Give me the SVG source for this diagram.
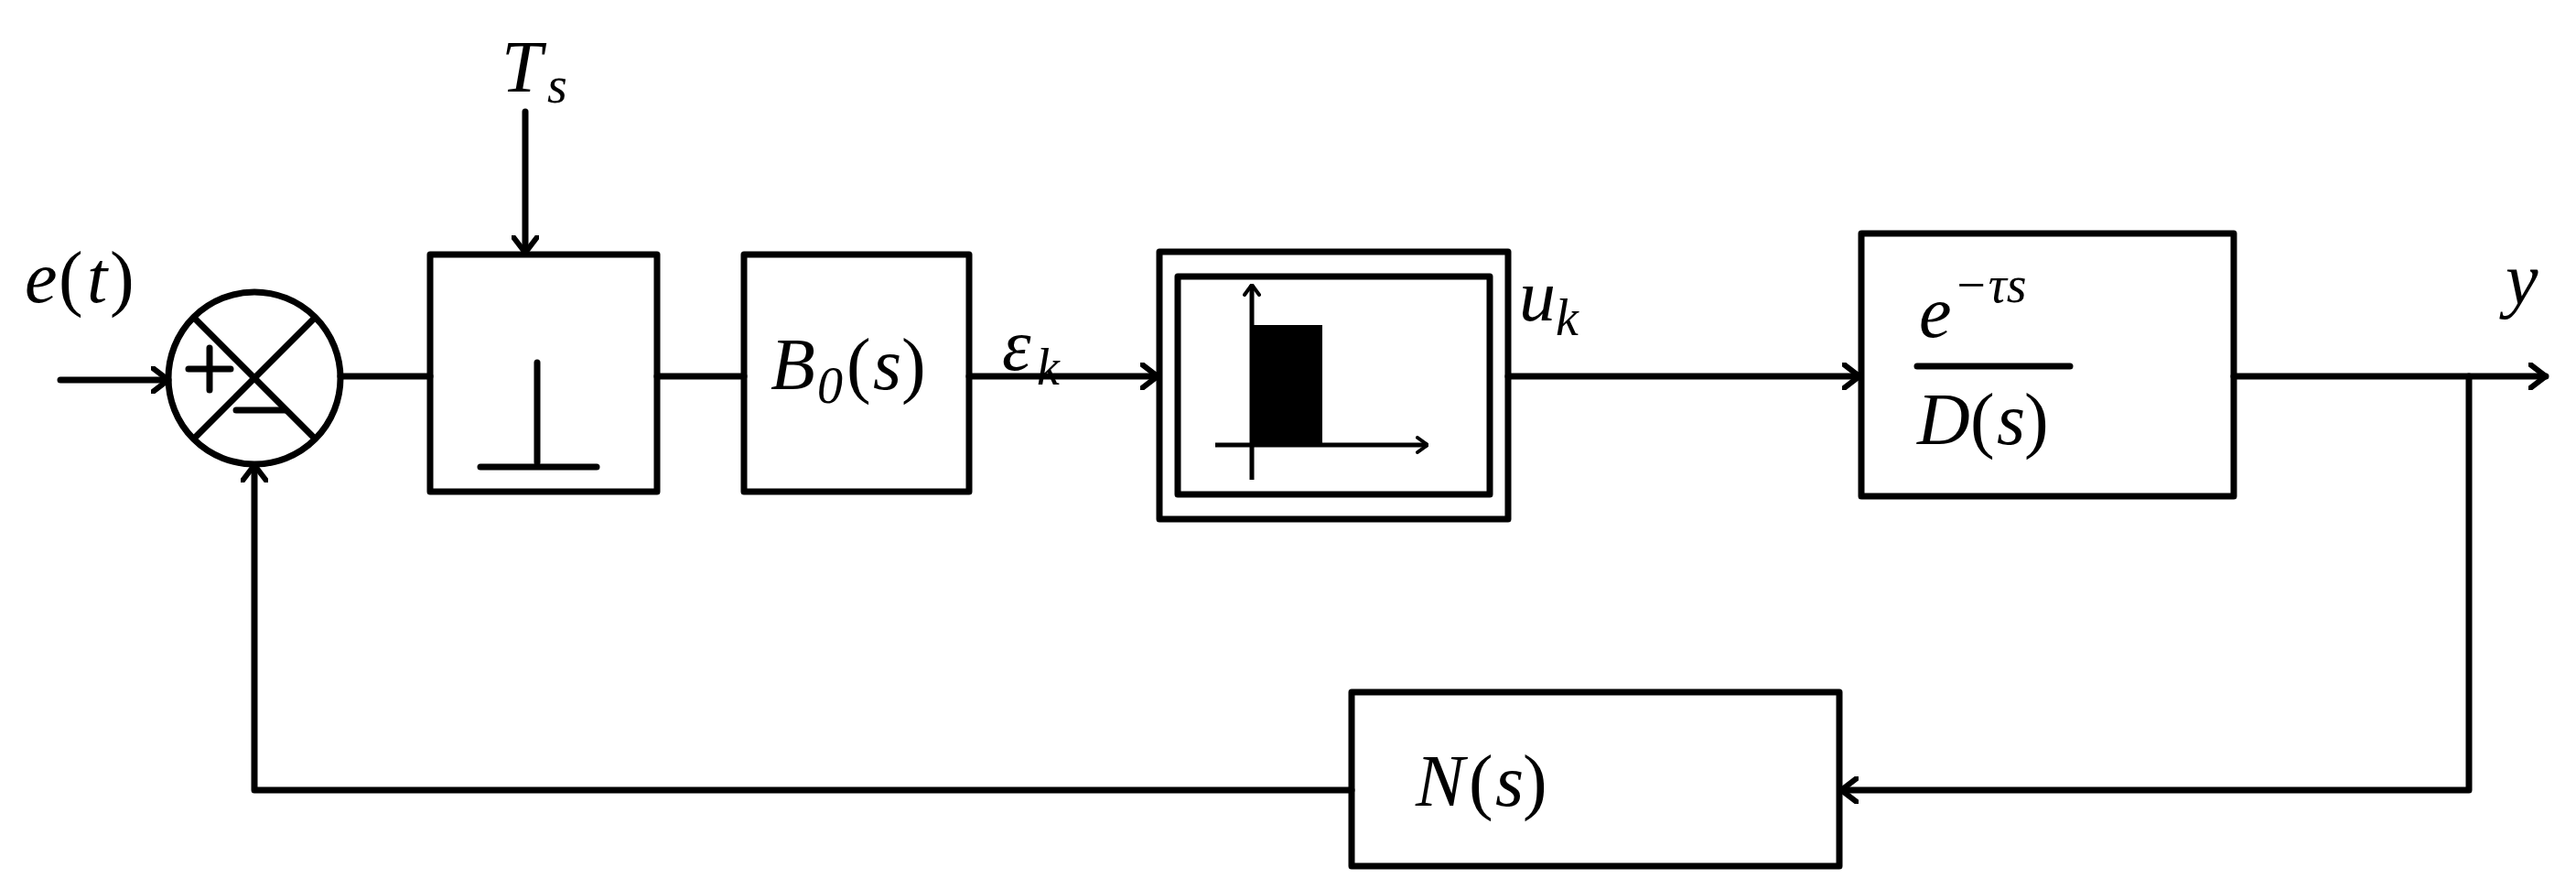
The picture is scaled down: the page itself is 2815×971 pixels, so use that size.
<svg xmlns="http://www.w3.org/2000/svg" width="2815" height="971" viewBox="0 0 2815 971">
<style>
.s{fill:none;stroke:#000;stroke-width:7;stroke-linecap:round;stroke-linejoin:round}
.t{font-family:"Liberation Serif",serif;font-style:italic;font-size:80px;fill:#000}
.r{font-family:"Liberation Serif",serif;font-size:80px;fill:#000}
.sub{font-family:"Liberation Serif",serif;font-style:italic;font-size:56px;fill:#000}
</style>
<defs>
<marker id="a" viewBox="0 0 20 30" refX="19" refY="15" markerWidth="20" markerHeight="30" markerUnits="userSpaceOnUse" orient="auto">
<path d="M2 2 L19 15 L2 28" fill="none" stroke="#000" stroke-width="6" stroke-linecap="round" stroke-linejoin="round"/>
</marker>
<marker id="b" viewBox="0 0 14 20" refX="13" refY="10" markerWidth="14" markerHeight="20" markerUnits="userSpaceOnUse" orient="auto">
<path d="M2 2 L13 10 L2 18" fill="none" stroke="#000" stroke-width="4" stroke-linecap="round"/>
</marker>
</defs>
<g id="connectors" class="s">
<line x1="66" y1="415" x2="184" y2="415" marker-end="url(#a)"/>
<line x1="574" y1="122" x2="574" y2="276" marker-end="url(#a)"/>
<line x1="372" y1="411" x2="470" y2="411"/>
<line x1="718" y1="411" x2="813" y2="411"/>
<line x1="1059" y1="411" x2="1265" y2="411" marker-end="url(#a)"/>
<line x1="1648" y1="411" x2="2032" y2="411" marker-end="url(#a)"/>
<line x1="2441" y1="411" x2="2782" y2="411" marker-end="url(#a)"/>
<polyline points="2698,411 2698,863 2012,863" marker-end="url(#a)"/>
<polyline points="1477,863 278,863 278,508" marker-end="url(#a)"/>
</g>
<g id="sum" class="s">
<ellipse cx="278" cy="413" rx="94" ry="94"/>
<line x1="212" y1="347" x2="344" y2="479"/>
<line x1="344" y1="347" x2="212" y2="479"/>
<line x1="206" y1="403" x2="252" y2="403" />
<line x1="229" y1="380" x2="229" y2="426"/>
<line x1="258" y1="448" x2="312" y2="448"/>
</g>
<text class="t" x="27" y="330">e</text><text class="r" x="64" y="330">(</text><text class="t" x="95" y="330">t</text><text class="r" x="120" y="330">)</text>
<text class="t" x="548" y="100">T</text><text class="sub" x="598" y="112">s</text>
<g id="sampler">
<rect class="s" x="470" y="278" width="248" height="259"/>
<line class="s" x1="587" y1="396" x2="587" y2="505"/>
<line class="s" x1="525" y1="510" x2="652" y2="510"/>
</g>
<g id="hold">
<rect class="s" x="813" y="278" width="246" height="259"/>
<text class="t" x="842" y="425">B</text><text class="sub" x="893" y="440" font-style="normal">0</text><text class="r" x="925" y="425">(</text><text class="t" x="954" y="425">s</text><text class="r" x="985" y="425">)</text>
</g>
<text class="t" x="1095" y="404">ε</text><text class="sub" x="1133" y="420">k</text>
<g id="pwm">
<rect class="s" x="1267" y="275" width="381" height="292"/>
<rect class="s" x="1287" y="302" width="341" height="238"/>
<rect x="1368" y="355" width="77" height="131" fill="#000"/>
<line x1="1368" y1="524" x2="1368" y2="311" stroke="#000" stroke-width="5" marker-end="url(#b)"/>
<line x1="1328" y1="486" x2="1560" y2="486" stroke="#000" stroke-width="5" marker-end="url(#b)"/>
</g>
<text class="t" x="1660" y="350">u</text><text class="sub" x="1700" y="366">k</text>
<g id="plant">
<rect class="s" x="2034" y="255" width="407" height="287"/>
<text class="t" x="2097" y="368">e</text><text class="sub" x="2135" y="330">−τs</text>
<line class="s" x1="2095" y1="400" x2="2262" y2="400"/>
<text class="t" x="2095" y="485">D</text><text class="r" x="2153" y="485">(</text><text class="t" x="2182" y="485">s</text><text class="r" x="2212" y="485">)</text>
</g>
<text class="t" x="2738" y="332">y</text>
<g id="feedback">
<rect class="s" x="1477" y="756" width="533" height="190"/>
<text class="t" x="1547" y="880">N</text><text class="r" x="1605" y="880">(</text><text class="t" x="1634" y="880">s</text><text class="r" x="1664" y="880">)</text>
</g>
</svg>
